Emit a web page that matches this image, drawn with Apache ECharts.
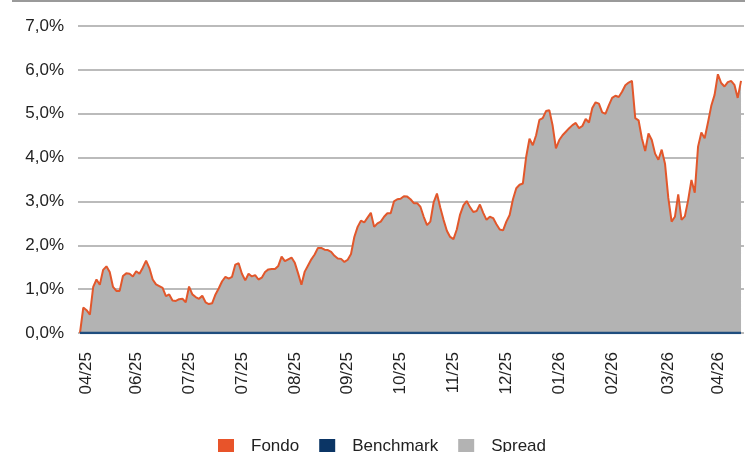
<!DOCTYPE html>
<html>
<head>
<meta charset="utf-8">
<script src="https://cdn.jsdelivr.net/npm/echarts@6/dist/echarts.min.js"></script>
<style>
html,body{margin:0;padding:0;background:#fff;}
#chart{width:752px;height:452px;}
</style>
</head>
<body>
<div id="chart"></div>
<script>
// Tick labels and the data index at which each appears
const tickLabels = ['04/25','06/25','07/25','07/25','08/25','09/25','10/25','11/25','12/25','01/26','02/26','03/26','04/26'];
const tickAt = [2,17,33,49,65,81,97,113,129,145,161,178,193];

// Fondo (cumulative %)
const fondo = [
0.00,0.58,0.52,0.42,1.05,1.22,1.10,1.44,1.52,1.39,
1.05,0.96,0.96,1.30,1.36,1.35,1.29,1.41,1.35,1.49,
1.65,1.48,1.22,1.11,1.07,1.03,0.84,0.88,0.74,0.73,
0.77,0.78,0.70,1.06,0.88,0.82,0.78,0.85,0.70,0.66,
0.68,0.88,1.02,1.18,1.28,1.24,1.28,1.56,1.59,1.35,
1.20,1.35,1.29,1.32,1.22,1.26,1.39,1.45,1.46,1.46,
1.53,1.74,1.64,1.68,1.72,1.60,1.36,1.10,1.40,1.54,
1.68,1.79,1.94,1.94,1.90,1.89,1.85,1.76,1.70,1.69,
1.62,1.67,1.80,2.19,2.42,2.56,2.52,2.63,2.74,2.42,
2.50,2.54,2.65,2.73,2.73,3.00,3.05,3.06,3.12,3.11,
3.05,2.96,2.96,2.88,2.65,2.46,2.54,2.98,3.18,2.86,
2.58,2.33,2.19,2.14,2.36,2.70,2.91,3.01,2.87,2.76,
2.78,2.93,2.74,2.58,2.65,2.62,2.48,2.36,2.34,2.54,
2.69,3.05,3.30,3.38,3.41,4.02,4.43,4.28,4.51,4.86,
4.90,5.06,5.08,4.73,4.21,4.40,4.51,4.59,4.67,4.74,
4.79,4.67,4.72,4.88,4.80,5.13,5.26,5.23,5.03,5.00,
5.19,5.36,5.41,5.38,5.50,5.65,5.71,5.75,4.90,4.85,
4.44,4.15,4.55,4.40,4.09,3.95,4.18,3.86,3.08,2.54,
2.65,3.16,2.58,2.66,3.03,3.49,3.20,4.25,4.57,4.44,
4.80,5.18,5.43,5.90,5.70,5.62,5.72,5.75,5.66,5.36,
5.75
];
// Benchmark is flat at 0,0% across the whole period
const benchmark = fondo.map(() => 0);
// Spread = Fondo - Benchmark
const spread = fondo.map((v, i) => +(v - benchmark[i]).toFixed(2));

const yTicks = [0,1,2,3,4,5,6,7];

const FONT = "'Liberation Sans', Arial, sans-serif";
const chart = echarts.init(document.getElementById('chart'), null, {renderer:'canvas'});
const pairs = arr => arr.map((v, i) => [i, v]);

chart.setOption({
  animation: false,
  backgroundColor: '#ffffff',
  graphic: [{
    type: 'rect', left: 12, top: 0,
    shape: {width: 733, height: 2},
    style: {fill: '#9a9a9a'}
  }],
  grid: {left: 78, right: 8, top: 26, bottom: 119, containLabel: false},
  legend: {
    data: ['Fondo','Benchmark','Spread'],
    top: 433, left: 213,
    icon: 'rect', itemWidth: 16, itemHeight: 15, itemGap: 20,
    textStyle: {fontFamily: FONT, fontSize: 17, color: '#222', padding: [0,0,0,12]}
  },
  xAxis: {
    type: 'value', min: -0.6, max: 200.9,
    axisLine: {show: false}, axisTick: {show: false}, splitLine: {show: false},
    axisLabel: {
      customValues: tickAt,
      rotate: 90, margin: 19,
      fontFamily: FONT, fontSize: 17, color: '#222',
      formatter: v => { const k = tickAt.indexOf(v); return k >= 0 ? tickLabels[k] : ''; }
    }
  },
  yAxis: {
    type: 'value', min: yTicks[0], max: yTicks[yTicks.length-1], interval: 1,
    axisLine: {show: false}, axisTick: {show: false},
    splitLine: {lineStyle: {color: '#a4a4a4', width: 1.5}},
    axisLabel: {
      margin: 14, fontFamily: FONT, fontSize: 17, color: '#222',
      formatter: v => v.toFixed(1).replace('.', ',') + '%'
    }
  },
  series: [
    {
      name: 'Spread', type: 'line', data: pairs(spread), z: 1,
      symbol: 'none', showSymbol: false,
      itemStyle: {color: '#b3b3b3'},
      lineStyle: {width: 0, color: '#b3b3b3'},
      areaStyle: {color: '#b3b3b3', opacity: 1}
    },
    {
      name: 'Fondo', type: 'line', data: pairs(fondo), z: 3,
      symbol: 'none', showSymbol: false,
      itemStyle: {color: '#e8542a'},
      lineStyle: {width: 2, color: '#e2572b'}
    },
    {
      name: 'Benchmark', type: 'line', data: pairs(benchmark), z: 4,
      symbol: 'none', showSymbol: false,
      itemStyle: {color: '#0b3565'},
      lineStyle: {width: 2.5, color: '#1f4d7e'}
    }
  ]
});
</script>
</body>
</html>
